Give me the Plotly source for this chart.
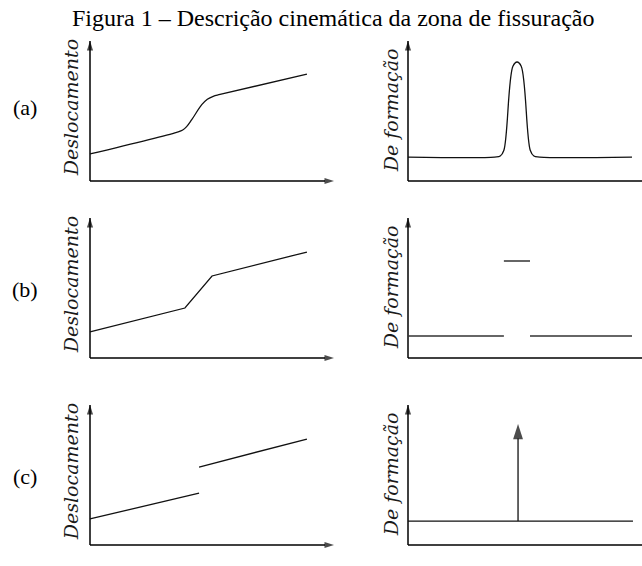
import plotly.graph_objects as go

# ---------------- data (axis units: x 0..10, y 0..10) ----------------
# (a) smooth strain localisation
a_desl_x = [0.0, 3.55, 3.80, 3.96, 4.17, 4.58, 4.81, 5.05, 5.33, 8.89]
a_desl_y = [1.93, 3.48, 3.64, 3.88, 4.38, 5.45, 5.84, 6.05, 6.18, 7.64]
a_def_x = [0.0, 3.55, 3.78, 3.93, 4.30, 4.47, 4.64, 5.01, 5.16, 5.40, 9.18]
a_def_y = [1.71, 1.71, 1.78, 2.20, 8.20, 8.50, 8.20, 2.20, 1.78, 1.71, 1.71]
# (b) weak discontinuity
b_desl_x = [0.0, 3.89, 5.00, 8.89]
b_desl_y = [1.86, 3.57, 5.86, 7.57]
b_def_x = [0.0, 3.93, None, 3.93, 5.00, None, 5.00, 9.18]
b_def_y = [1.57, 1.57, None, 6.93, 6.93, None, 1.57, 1.57]
# (c) strong discontinuity
c_desl_x = [0.0, 4.47, None, 4.47, 8.89]
c_desl_y = [1.86, 3.71, None, 5.57, 7.57]
c_def_x = [0.0, 9.22]
c_def_y = [1.71, 1.71]
c_delta_x = [4.51, 4.51]
c_delta_y = [1.71, 8.64]

row_labels = ["(a)", "(b)", "(c)"]
ylab_left = "Deslocamento"
ylab_right = "De formação"
xlab = "x"
title = "Figura 1 – Descrição cinemática da zona de fissuração"

# ---------------- layout geometry (pixels) ----------------
W, H = 642, 566
SX, SY = 24.4, 14.0          # pixels per axis unit
PAD = 0.3
ORIG_LEFT, ORIG_RIGHT = 90, 408
ROW_BOTTOM = [181, 358, 545]
ROW_LABEL_Y = [108, 290, 477]

fig = go.Figure()

panels = [
    (a_desl_x, a_desl_y, a_def_x, a_def_y),
    (b_desl_x, b_desl_y, b_def_x, b_def_y),
    (c_desl_x, c_desl_y, c_def_x, c_def_y),
]

annotations = []
line_style = dict(color="#111111", width=1.3)
axis_style = dict(color="#000000", width=1.5)

for r, (lx, ly, rx, ry) in enumerate(panels):
    by = ROW_BOTTOM[r]
    ydom = [1 - (by + PAD * SY) / H, 1 - (by - (10 + PAD) * SY) / H]
    for side in range(2):
        n = 2 * r + side + 1
        sfx = "" if n == 1 else str(n)
        ox = ORIG_LEFT if side == 0 else ORIG_RIGHT
        x0 = ox - PAD * SX
        if side == 0:
            x1 = ox + (10 + PAD) * SX
            xr = [-PAD, 10 + PAD]
        else:
            x1 = W
            xr = [-PAD, (W - ox) / SX]
        fig.layout["xaxis" + sfx] = dict(domain=[x0 / W, x1 / W], range=xr, visible=False,
                                         anchor="y" + sfx, fixedrange=True)
        fig.layout["yaxis" + sfx] = dict(domain=ydom, range=[-PAD, 10 + PAD], visible=False,
                                         anchor="x" + sfx, fixedrange=True)
        xa, ya = "x" + sfx, "y" + sfx
        # axes with arrow heads
        fig.add_trace(go.Scatter(x=[0, 0], y=[0, 10], mode="lines+markers", xaxis=xa, yaxis=ya,
                                 line=axis_style, cliponaxis=False, showlegend=False,
                                 marker=dict(symbol="arrow", size=[0, 10], angleref="previous",
                                             color="#000000", line=dict(width=0))))
        fig.add_trace(go.Scatter(x=[0, 10], y=[0, 0], mode="lines+markers", xaxis=xa, yaxis=ya,
                                 line=axis_style, cliponaxis=False, showlegend=False,
                                 marker=dict(symbol="arrow", size=[0, 10], angleref="previous",
                                             color="#000000", line=dict(width=0))))
        # curves
        shape = "spline" if r == 0 else "linear"
        if side == 0:
            fig.add_trace(go.Scatter(x=lx, y=ly, mode="lines", xaxis=xa, yaxis=ya,
                                     line=dict(line_style, shape=shape, smoothing=1.0),
                                     showlegend=False, connectgaps=False))
        else:
            col = "#333333" if r == 1 else "#111111"
            fig.add_trace(go.Scatter(x=rx, y=ry, mode="lines", xaxis=xa, yaxis=ya,
                                     line=dict(color=col, width=1.3, shape=shape, smoothing=1.0),
                                     showlegend=False, connectgaps=False))
            if r == 2:
                fig.add_trace(go.Scatter(x=c_delta_x, y=c_delta_y, mode="lines+markers",
                                         xaxis=xa, yaxis=ya, line=line_style, cliponaxis=False,
                                         showlegend=False,
                                         marker=dict(symbol="arrow", size=[0, 16],
                                                     angleref="previous", color="#000000",
                                                     line=dict(width=0))))
        # y label
        annotations.append(dict(
            text=ylab_left if side == 0 else ylab_right, textangle=-90,
            xref="paper", x=(71 if side == 0 else 391) / W, xanchor="center",
            yref=ya, y=5.2 if side == 0 else 5.05, yanchor="middle", showarrow=False,
            font=dict(family="DejaVu Serif", size=19, style="italic", color="#1a1a1a")))
        # x label
        annotations.append(dict(
            text=xlab, xref=xa, x=(313 - ox) / SX if side == 0 else (634 - ox) / SX,
            yref=ya, y=-16 / SY, xanchor="center", yanchor="middle", showarrow=False,
            font=dict(family="DejaVu Serif", size=17, style="italic", color="#000000")))
    # row label
    annotations.append(dict(
        text=row_labels[r], xref="paper", x=25 / W, yref="y" + ("" if r == 0 else str(2 * r + 1)),
        y=(by - ROW_LABEL_Y[r]) / SY, xanchor="center", yanchor="middle", showarrow=False,
        font=dict(family="Liberation Serif", size=22, color="#000000")))

annotations.append(dict(
    text=title, xref="paper", yref="paper", x=333 / W, y=1 - 18 / H, xanchor="center",
    yanchor="middle", showarrow=False,
    font=dict(family="Liberation Serif", size=24, color="#000000")))

fig.update_layout(width=W, height=H, margin=dict(l=0, r=0, t=0, b=0),
                  paper_bgcolor="white", plot_bgcolor="white",
                  annotations=annotations, showlegend=False)

fig.write_html("out.html")
